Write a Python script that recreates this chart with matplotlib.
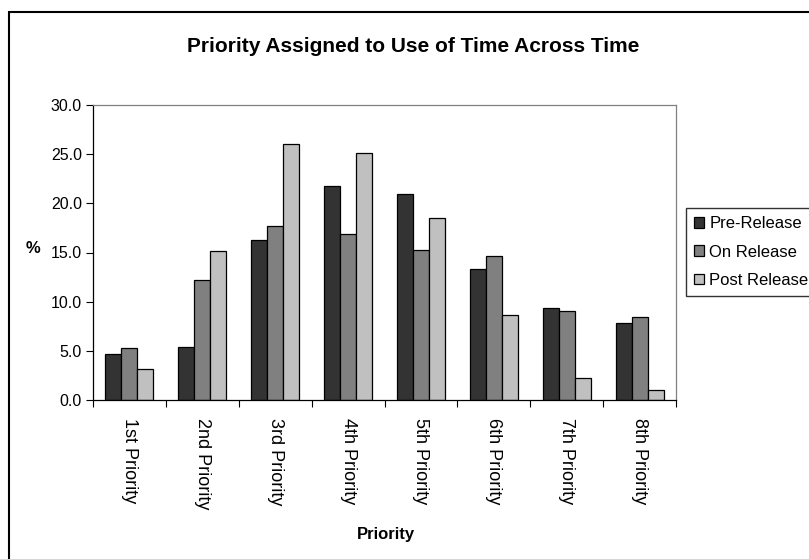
import matplotlib
matplotlib.use("Agg")
import matplotlib.pyplot as plt
from matplotlib.patches import Rectangle
import numpy as np

plt.rcParams["font.family"] = ["Liberation Sans", "DejaVu Sans"]

categories = ["1st Priority", "2nd Priority", "3rd Priority", "4th Priority",
              "5th Priority", "6th Priority", "7th Priority", "8th Priority"]
pre_release = [4.7, 5.4, 16.3, 21.8, 21.0, 13.3, 9.4, 7.8]
on_release = [5.3, 12.2, 17.7, 16.9, 15.3, 14.6, 9.1, 8.4]
post_release = [3.2, 15.2, 26.0, 25.1, 18.5, 8.6, 2.2, 1.05]
series_names = ["Pre-Release", "On Release", "Post Release"]
colors = ["#333333", "#808080", "#c0c0c0"]

W, H = 809, 559
fig = plt.figure(figsize=(W / 100, H / 100), dpi=100)
ax = fig.add_axes([93 / W, 1 - 400 / H, (676 - 93) / W, (400 - 105) / H])

x = np.arange(len(categories))
width = 0.22
for i, (vals, name, col) in enumerate(zip([pre_release, on_release, post_release],
                                          series_names, colors)):
    ax.bar(x + (i - 1) * width, vals, width, color=col, edgecolor="black",
           linewidth=0.9, label=name)

ax.set_xlim(-0.5, len(categories) - 0.5)
ax.set_ylim(0, 30)
yt = np.arange(0, 30.1, 5)
ax.set_yticks(yt)
ax.set_yticklabels([f"{v:.1f}" for v in yt], fontsize=11.5)

# category ticks sit between the groups, labels in the middle of each group
ax.set_xticks(np.arange(-0.5, len(categories), 1.0))
ax.set_xticklabels([])
ax.set_xticks(x, minor=True)
ax.set_xticklabels(categories, minor=True, rotation=270, fontsize=13)
ax.tick_params(axis="x", which="minor", length=0, pad=13)
ax.tick_params(axis="x", which="major", length=5, width=0.8, direction="out")
ax.tick_params(axis="y", length=5, width=0.8, direction="out", pad=3)

for side in ["top", "right"]:
    ax.spines[side].set_color("#808080")
for side in ["left", "bottom"]:
    ax.spines[side].set_color("black")
for s in ax.spines.values():
    s.set_linewidth(0.9)

fig.text(386 / W, 1 - 535 / H, "Priority", fontsize=12, fontweight="bold",
         ha="center", va="center")
fig.text(33 / W, 1 - 249 / H, "%", fontsize=12, fontweight="bold",
         ha="center", va="center")
fig.text(413 / W, 1 - 46 / H, "Priority Assigned to Use of Time Across Time",
         fontsize=15, fontweight="bold", ha="center", va="center")

fig.legend(loc="upper left", bbox_to_anchor=(686 / W, 1 - 208 / H),
           fontsize=12, frameon=True, fancybox=False, edgecolor="black",
           handlelength=0.6, handleheight=0.6, handletextpad=0.3,
           borderpad=0.5, labelspacing=0.8, borderaxespad=0)

# outer chart frame
fig.patches.append(Rectangle((9 / W, -0.1), 1.2, 1 - 12 / H + 0.1,
                             transform=fig.transFigure, fill=False,
                             edgecolor="black", linewidth=1.5))

fig.savefig("out.png", dpi=100)
